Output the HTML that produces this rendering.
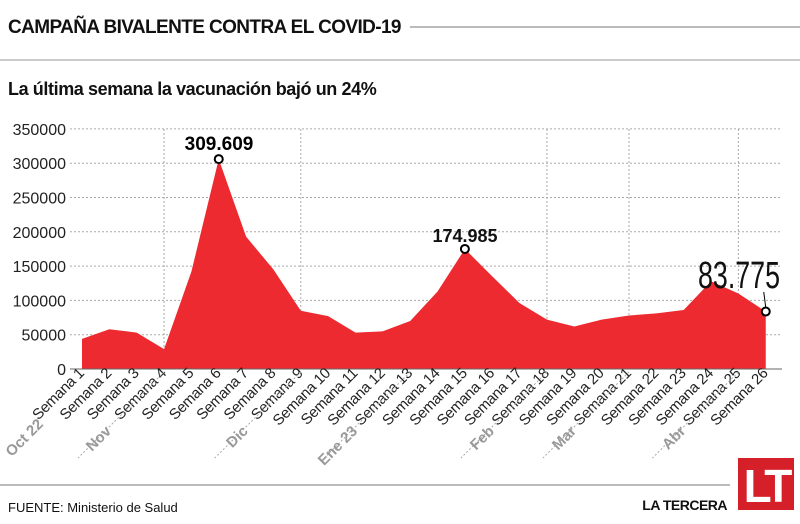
<!DOCTYPE html>
<html><head><meta charset="utf-8"><style>
body{margin:0;background:#fff;width:800px;height:519px;overflow:hidden;font-family:"Liberation Sans",sans-serif}
</style></head><body>
<svg id="s" width="800" height="519" xmlns="http://www.w3.org/2000/svg" font-family="Liberation Sans, sans-serif">
<text x="8" y="33" font-size="19" font-weight="bold" fill="#111" letter-spacing="-0.6">CAMPAÑA BIVALENTE CONTRA EL COVID-19</text>
<line x1="410" y1="27" x2="800" y2="27" stroke="#777" stroke-width="1"/>
<line x1="0" y1="60" x2="800" y2="60" stroke="#999" stroke-width="1"/>
<text x="8" y="95" font-size="18" font-weight="bold" fill="#111" letter-spacing="-0.4">La última semana la vacunación bajó un 24%</text>
<g id="g"></g>
<line x1="0" y1="485" x2="730" y2="485" stroke="#777" stroke-width="1"/>
<text x="8" y="512" font-size="13" fill="#111">FUENTE: Ministerio de Salud</text>
<text x="727" y="510" font-size="14" font-weight="bold" fill="#111" text-anchor="end" letter-spacing="-0.5">LA TERCERA</text>
<rect x="738" y="458" width="56" height="52" fill="#d5202a"/>
<text x="766" y="502" font-size="46" font-weight="bold" fill="#fff" text-anchor="middle" letter-spacing="-4">LT</text>
</svg>
<script>
var v=[44000,58000,53000,29000,142000,306000,193000,145000,85000,77000,53000,55000,70000,113000,174985,135000,96000,72000,62000,72000,78000,81000,86000,128000,110000,83775];
var g=document.getElementById('g'),h='';
function X(i){return 82+i*27.35}function Y(val){return 369-val*240.1/350000}
for(var k=0;k<=7;k++){var y=369-k*34.3;h+='<line x1="70" x2="780" y1="'+y+'" y2="'+y+'" stroke="#aaa" stroke-dasharray="2,2"/>';h+='<text x="66" y="'+(y+6)+'" font-size="16" fill="#222" text-anchor="end">'+(k*50000)+'</text>';}
[3,8,17,20,24].forEach(function(i){h+='<line x1="'+X(i)+'" x2="'+X(i)+'" y1="129" y2="369" stroke="#aaa" stroke-dasharray="2,2"/>';});
var p='M'+X(0)+',369';v.forEach(function(a,i){p+=' L'+X(i)+','+Y(a)});p+=' L'+X(25)+',369Z';
h+='<path d="'+p+'" fill="#ed2a2f"/>';
h+='<line x1="70" x2="782" y1="369" y2="369" stroke="#666"/>';
for(var i=0;i<26;i++){h+='<text transform="translate('+(X(i)+3)+',374) rotate(-45)" font-size="15" fill="#222" text-anchor="end" letter-spacing="-0.3">Semana '+(i+1)+'</text>';}
[3,8,12,17,20,24].forEach(function(i){var x=X(i);h+='<line x1="'+x+'" y1="372" x2="'+(x-86)+'" y2="458" stroke="#aaa" stroke-dasharray="2,2"/>';});
[[0,'Oct 22',-38],[3,'Nov',-52],[8,'Dic',-52],[12,'Ene 23',-52],[17,'Feb',-52],[20,'Mar',-52],[24,'Abr',-52]].forEach(function(m){h+='<text transform="translate('+(X(m[0])+m[2])+','+(m[0]==0?425:432)+') rotate(-45)" font-size="15" font-weight="bold" fill="#999" text-anchor="end">'+m[1]+'</text>';});
h+='<circle cx="'+X(5)+'" cy="'+Y(306000)+'" r="4" fill="#fff" stroke="#000" stroke-width="2"/>';
h+='<text x="219" y="150" font-size="19" font-weight="bold" text-anchor="middle">309.609</text>';
h+='<circle cx="'+X(14)+'" cy="'+Y(174985)+'" r="4" fill="#fff" stroke="#000" stroke-width="2"/>';
h+='<text x="465" y="242" font-size="18" font-weight="bold" text-anchor="middle" fill="#111">174.985</text>';
h+='<circle cx="'+X(25)+'" cy="'+Y(83775)+'" r="4" fill="#fff" stroke="#000" stroke-width="2"/>';
h+='<line x1="'+X(25)+'" y1="'+(Y(83775)-4)+'" x2="'+(X(25)-2)+'" y2="292" stroke="#000"/>';
h+='<text x="698" y="288" font-size="38" fill="#111" textLength="82" lengthAdjust="spacingAndGlyphs">83.775</text>';
g.innerHTML=h;
</script>
</body></html>
